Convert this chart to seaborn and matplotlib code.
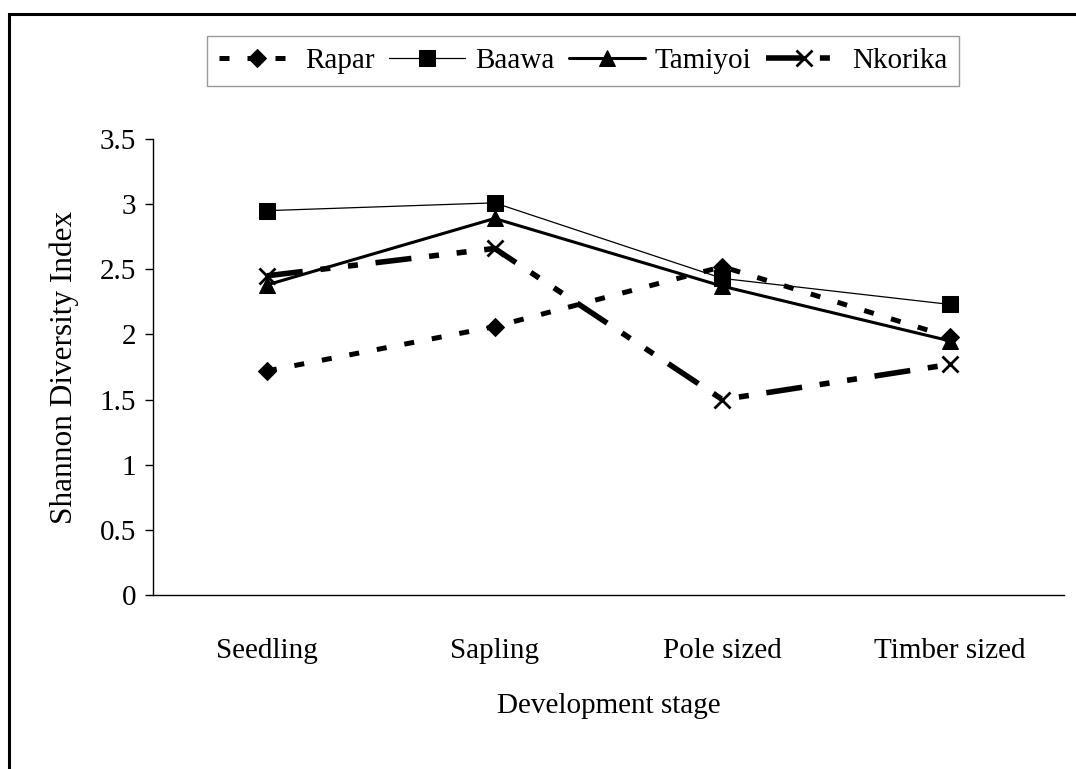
import numpy as np
import pandas as pd
import matplotlib
matplotlib.use('Agg')
import matplotlib.pyplot as plt
from matplotlib.patches import Rectangle
import seaborn as sns

# data
stages = ['Seedling', 'Sapling', 'Pole sized', 'Timber sized']
rapar = [1.72, 2.06, 2.52, 1.98]
baawa = [2.95, 3.01, 2.43, 2.23]
tamiyoi = [2.38, 2.89, 2.37, 1.95]
nkorika = [2.45, 2.66, 1.50, 1.77]

sns.set_style('white')
plt.rcParams['font.family'] = ['Liberation Serif', 'DejaVu Serif']
plt.rcParams['font.size'] = 21
plt.rcParams['text.color'] = 'black'
plt.rcParams['axes.labelcolor'] = 'black'
plt.rcParams['xtick.color'] = 'black'
plt.rcParams['ytick.color'] = 'black'

fig = plt.figure(figsize=(10.76, 7.69), dpi=100)
ax = fig.add_axes([153/1076, 1-595/769, (1064-153)/1076, (595-139)/769])

# series styles (Excel-like black lines)
series = [
    ('Rapar', rapar, dict(marker='D', markersize=9, linewidth=3.6, linestyle=(0, (2, 3.6)))),
    ('Baawa', baawa, dict(marker='s', markersize=11, linewidth=0.9, linestyle='-')),
    ('Tamiyoi', tamiyoi, dict(marker='^', markersize=11, linewidth=2.2, linestyle='-')),
    ('Nkorika', nkorika, dict(marker='x', markersize=11, markeredgewidth=2, linewidth=4,
                             linestyle=(0, (6.5, 3.2, 1.8, 3.2, 1.8, 3.2)))),
]
for name, vals, kw in series:
    df = pd.DataFrame({'stage': stages, 'value': vals})
    sns.lineplot(data=df, x='stage', y='value', ax=ax, color='black',
                 markeredgecolor='black', label=name, sort=False, **kw)

ax.set_xlim(-0.5, 3.5)
ax.set_ylim(0, 3.5)
ax.set_yticks(np.arange(0, 3.51, 0.5))
ax.set_yticklabels(['0', '0.5', '1', '1.5', '2', '2.5', '3', '3.5'])
ax.set_xticks(range(len(stages)))
ax.set_xticklabels(stages)
ax.set_xticks([-0.5, 0.5, 1.5, 2.5, 3.5], minor=True)
ax.tick_params(axis='x', which='major', length=0, pad=31, labelsize=21)
ax.tick_params(axis='x', which='minor', length=8, width=1, direction='out')
ax.tick_params(axis='y', which='major', length=6, width=1, direction='out',
               left=True, pad=6, labelsize=21)

for s in ['top', 'right']:
    ax.spines[s].set_visible(False)
for s in ['left', 'bottom']:
    ax.spines[s].set_color('black')
    ax.spines[s].set_linewidth(1)

ax.set_xlabel('Development stage', fontsize=21, labelpad=21)
ax.set_ylabel('Shannon Diversity Index', fontsize=22.5, labelpad=15)

handles, labels = ax.get_legend_handles_labels()
ax.get_legend().remove()
leg = fig.legend(handles, labels, loc='center', bbox_to_anchor=(0.542, 0.921), ncol=4,
                 frameon=True, fancybox=False, edgecolor='#808080', fontsize=21,
                 handlelength=2.6, handletextpad=0.35, columnspacing=0.5,
                 borderpad=0.4, borderaxespad=0)
leg.get_frame().set_linewidth(1)

# outer chart border (only left and top visible in the reference)
fig.patches.append(Rectangle((9/1076, -0.05), 1.2, 1 - 14/769 + 0.05,
                             transform=fig.transFigure, fill=False,
                             edgecolor='black', linewidth=2.2))

fig.savefig('out.png', dpi=100)
